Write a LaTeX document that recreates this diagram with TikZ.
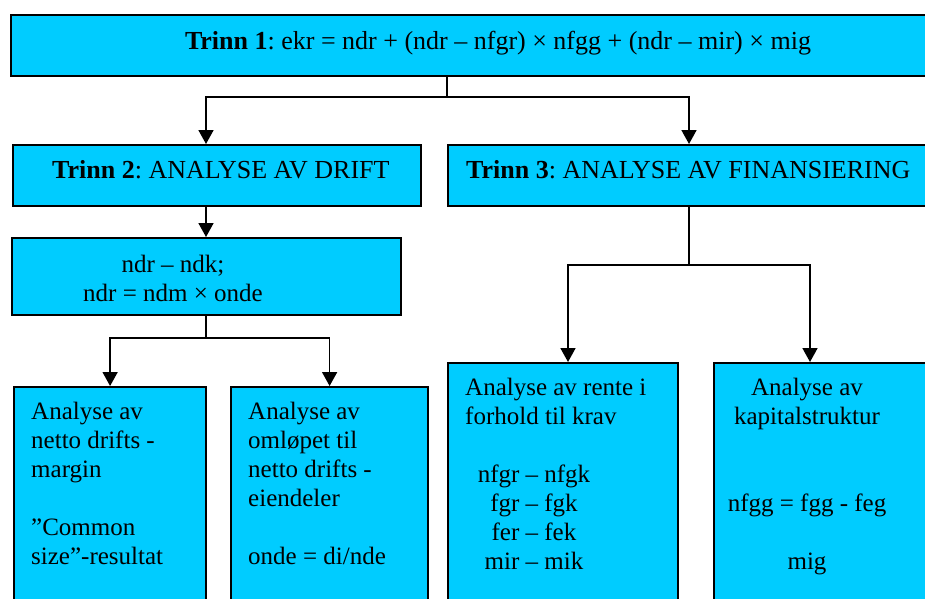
\documentclass[tikz,border=0pt]{standalone}
\usepackage{fontspec}
\setmainfont{Liberation Serif}
\usetikzlibrary{arrows.meta}
\definecolor{boxcyan}{HTML}{00CCFF}
\frenchspacing
\tikzset{
  box/.style={draw, line width=2.2pt, fill=boxcyan, rectangle, inner sep=0pt, anchor=north west},
  txt/.style={inner sep=0pt, font=\fontsize{25}{29}\selectfont},
  head/.style={inner sep=0pt, font=\fontsize{26}{30}\selectfont},
  con/.style={line width=1.7pt},
  arr/.style={line width=1.7pt, -{Triangle[length=14pt,width=15pt]}}
}
\begin{document}
\begin{tikzpicture}[x=1pt,y=-1pt]
  \useasboundingbox (0,0) rectangle (925,598);
  \clip (0,0) rectangle (925,598);
  % boxes
  \node[box, minimum width=976pt, minimum height=61pt] (trinn1) at (10,14) {};
  \node[box, minimum width=408pt, minimum height=61pt] (trinn2) at (12,144) {};
  \node[box, minimum width=560pt, minimum height=61pt] (trinn3) at (447,144) {};
  \node[box, minimum width=389pt, minimum height=77pt] (ndr) at (11,237) {};
  \node[box, minimum width=192pt, minimum height=240pt] (netto) at (13,386) {};
  \node[box, minimum width=197pt, minimum height=240pt] (omlop) at (230,386) {};
  \node[box, minimum width=230pt, minimum height=260pt] (rente) at (447,362) {};
  \node[box, minimum width=300pt, minimum height=260pt] (kapital) at (713,362) {};
  % texts
  \node[head, anchor=base] (t1) at (498,49)
    {\textbf{Trinn 1}: ekr = ndr + (ndr – nfgr) × nfgg + (ndr – mir) × mig};
  \node[head, anchor=base west] (t2) at (52,178) {\textbf{Trinn 2}: ANALYSE AV DRIFT};
  \node[head, anchor=base west] (t3) at (466,178) {\textbf{Trinn 3}: ANALYSE AV FINANSIERING};
  \node[txt, anchor=north, align=center] (tndr) at (173,255)
    {ndr – ndk;\\ndr = ndm × onde};
  \node[txt, anchor=north west, align=left] (tnetto) at (31,402)
    {Analyse av\\netto drifts -\\margin\\[29pt]”Common\\size”-resultat};
  \node[txt, anchor=north west, align=left] (tomlop) at (248,402)
    {Analyse av\\omløpet til\\netto drifts -\\eiendeler\\[29pt]onde = di/nde};
  \node[txt, anchor=north west, align=left] (trente) at (465,378)
    {Analyse av rente i\\forhold til krav};
  \node[txt, anchor=north, align=center] (tkrav) at (534,465)
    {nfgr – nfgk\\fgr – fgk\\fer – fek\\mir – mik};
  \node[txt, anchor=north, align=center] (tkapital) at (807,378)
    {Analyse av\\kapitalstruktur\\[58pt]nfgg = fgg - feg\\[29pt]mig};
  % connectors
  \coordinate (j1) at (447,97);
  \coordinate (j2) at (206,338);
  \coordinate (j3) at (689,265);
  \coordinate (j3l) at (568,265);
  \coordinate (j3r) at (810,265);
  \draw[con] (trinn1.south -| j1) -- (j1);
  \draw[arr] (j1) -| (trinn2.north -| j2);
  \draw[arr] (j1) -| (trinn3.north -| j3);
  \draw[arr] (trinn2.south -| j2) -- (ndr.north -| j2);
  \draw[con] (ndr.south -| j2) -- (j2);
  \draw[arr] (j2) -| (netto.north);
  \draw[arr] (j2) -| (omlop.north);
  \draw[con] (trinn3.south -| j3) -- (j3);
  \draw[arr] (j3) -- (j3l) -- (j3l |- rente.north);
  \draw[arr] (j3) -- (j3r) -- (j3r |- kapital.north);
\end{tikzpicture}
\end{document}
